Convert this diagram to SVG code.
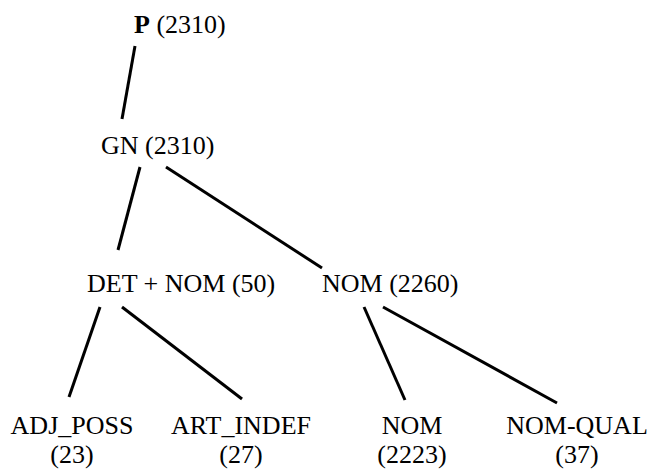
<svg xmlns="http://www.w3.org/2000/svg" width="650" height="470" viewBox="0 0 650 470">
  <style>
    text { font-family: "Liberation Serif", "Times New Roman", serif; font-size: 26px; fill: #000; }
    .mid { text-anchor: middle; }
    .edge { stroke: #000; stroke-width: 3; stroke-linecap: butt; fill: none; }
  </style>
  <rect width="650" height="470" fill="#fff"/>
  <g id="connectors">
    <line class="edge" x1="135" y1="46" x2="122" y2="119"/>
    <line class="edge" x1="140" y1="167" x2="118" y2="250"/>
    <line class="edge" x1="166" y1="167" x2="322" y2="268"/>
    <line class="edge" x1="100" y1="307" x2="69" y2="397"/>
    <line class="edge" x1="122" y1="307" x2="242" y2="399"/>
    <line class="edge" x1="364" y1="307" x2="405" y2="400"/>
    <line class="edge" x1="383" y1="307" x2="557" y2="403"/>
  </g>
  <g id="node-p">
    <text x="134" y="33"><tspan font-weight="bold">P</tspan> (2310)</text>
  </g>
  <g id="node-gn">
    <text x="101" y="154">GN (2310)</text>
  </g>
  <g id="node-det-nom">
    <text x="87" y="292">DET + NOM (50)</text>
  </g>
  <g id="node-nom-2260">
    <text x="322" y="292">NOM (2260)</text>
  </g>
  <g id="node-adj-poss">
    <text class="mid" x="72" y="434">ADJ_POSS</text>
    <text class="mid" x="72" y="463">(23)</text>
  </g>
  <g id="node-art-indef">
    <text class="mid" x="241" y="434">ART_INDEF</text>
    <text class="mid" x="241" y="463">(27)</text>
  </g>
  <g id="node-nom-2223">
    <text class="mid" x="412" y="434">NOM</text>
    <text class="mid" x="412" y="463">(2223)</text>
  </g>
  <g id="node-nom-qual">
    <text class="mid" x="577" y="434">NOM-QUAL</text>
    <text class="mid" x="577" y="463">(37)</text>
  </g>
</svg>
